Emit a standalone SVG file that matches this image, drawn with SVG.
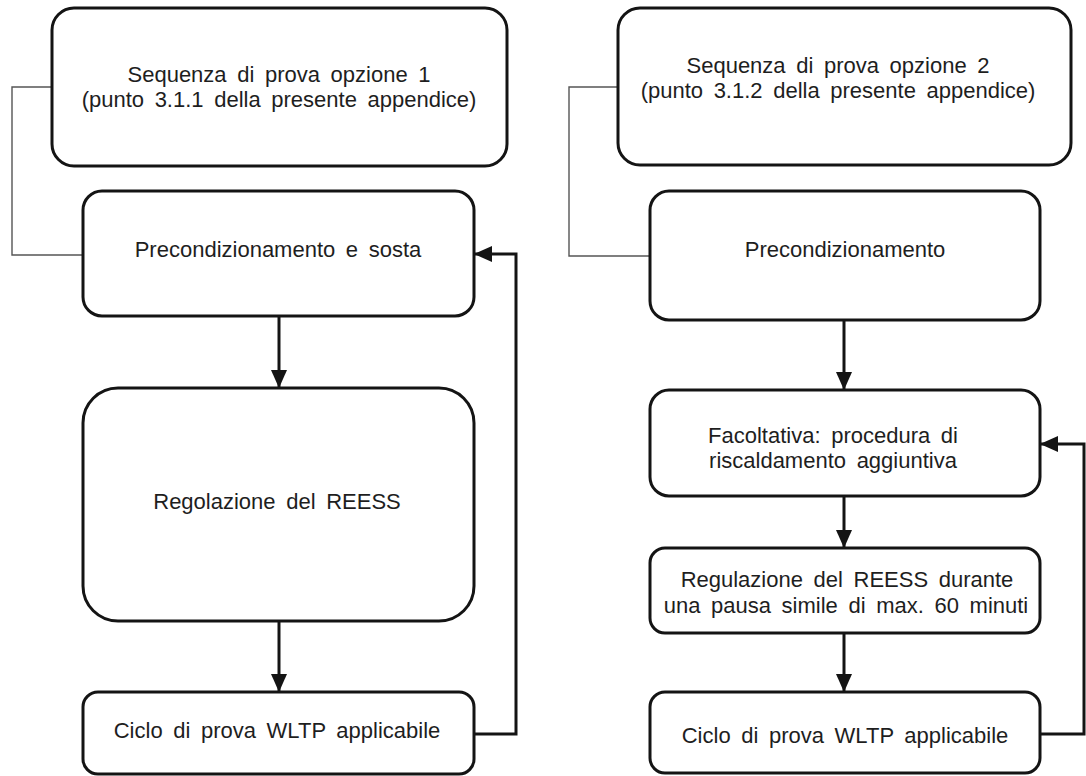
<svg xmlns="http://www.w3.org/2000/svg" width="1086" height="776" viewBox="0 0 1086 776">
<style>
.box{fill:#fff;stroke:#141414;stroke-width:3}
.t{font-family:"Liberation Sans",Arial,sans-serif;font-size:22px;fill:#1e1e1e;text-anchor:middle;word-spacing:4.5px}
.thin{fill:none;stroke:#555;stroke-width:1.4}
.arr{fill:none;stroke:#141414;stroke-width:3}
</style>
<defs>
<marker id="ah" markerUnits="userSpaceOnUse" markerWidth="18" markerHeight="16" refX="18" refY="8" orient="auto" viewBox="0 0 18 16">
<path d="M0,0 L18,8 L0,16 z" fill="#141414"/>
</marker>
</defs>
<rect width="1086" height="776" fill="#fff"/>
<g id="connectors">
<path class="thin" d="M52,87 H12 V255 H83"/>
<path class="thin" d="M618,87 H569 V256 H650"/>
<path class="arr" d="M279,316 V388" marker-end="url(#ah)"/>
<path class="arr" d="M279,621 V692" marker-end="url(#ah)"/>
<path class="arr" d="M474,734 H516 V254 H474" marker-end="url(#ah)"/>
<path class="arr" d="M844,320 V390" marker-end="url(#ah)"/>
<path class="arr" d="M844,496 V548" marker-end="url(#ah)"/>
<path class="arr" d="M844,633 V692" marker-end="url(#ah)"/>
<path class="arr" d="M1040,734 H1084 V444 H1040" marker-end="url(#ah)"/>
</g>
<g id="l1">
<rect class="box" x="52" y="8" width="455" height="158" rx="22"/>
<text class="t" x="279" y="82">Sequenza di prova opzione 1</text>
<text class="t" x="279" y="107">(punto 3.1.1 della presente appendice)</text>
</g>
<g id="l2">
<rect class="box" x="83" y="191" width="391" height="125" rx="19"/>
<text class="t" x="278" y="257">Precondizionamento e sosta</text>
</g>
<g id="l3">
<rect class="box" x="83" y="388" width="391" height="233" rx="35"/>
<text class="t" x="277" y="509">Regolazione del REESS</text>
</g>
<g id="l4">
<rect class="box" x="83" y="692" width="391" height="82" rx="15"/>
<text class="t" x="277" y="738">Ciclo di prova WLTP applicabile</text>
</g>
<g id="r1">
<rect class="box" x="618" y="8" width="453" height="157" rx="22"/>
<text class="t" x="838" y="73">Sequenza di prova opzione 2</text>
<text class="t" x="838" y="98">(punto 3.1.2 della presente appendice)</text>
</g>
<g id="r2">
<rect class="box" x="650" y="191" width="390" height="129" rx="19"/>
<text class="t" x="845" y="257">Precondizionamento</text>
</g>
<g id="r3">
<rect class="box" x="650" y="390" width="390" height="106" rx="19"/>
<text class="t" x="833" y="443">Facoltativa: procedura di</text>
<text class="t" x="833" y="468">riscaldamento aggiuntiva</text>
</g>
<g id="r4">
<rect class="box" x="650" y="548" width="390" height="85" rx="15"/>
<text class="t" x="847" y="587">Regulazione del REESS durante</text>
<text class="t" x="846" y="613">una pausa simile di max. 60 minuti</text>
</g>
<g id="r5">
<rect class="box" x="650" y="692" width="390" height="81" rx="15"/>
<text class="t" x="845" y="743">Ciclo di prova WLTP applicabile</text>
</g>
</svg>
